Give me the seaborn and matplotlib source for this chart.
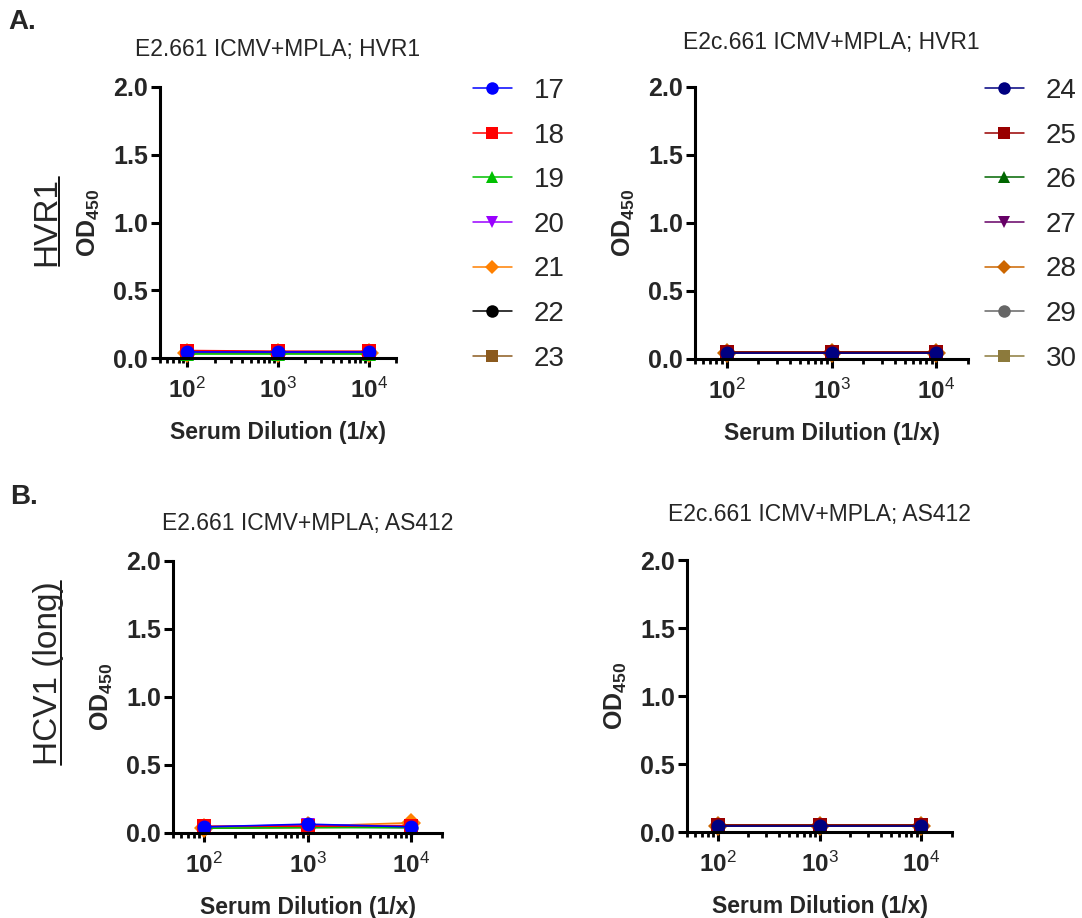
import numpy as np
import pandas as pd
import matplotlib
matplotlib.use('Agg')
import matplotlib.pyplot as plt
from matplotlib.lines import Line2D
from matplotlib.ticker import LogLocator, NullFormatter
import seaborn as sns

# ---- data ----
dilution = [100, 1000, 10000]

mice_e2 = ['17', '18', '19', '20', '21', '22', '23']
mice_e2c = ['24', '25', '26', '27', '28', '29', '30']

colors_e2 = ['#0000FF', '#FF0000', '#00C000', '#9900FF', '#FF8000', '#000000', '#8B5A1E']
colors_e2c = ['#000080', '#990000', '#006600', '#660066', '#CC6600', '#666666', '#8C7A3C']
markers = ['o', 's', '^', 'v', 'D', 'o', 's']

# OD450 per mouse at 1e2, 1e3, 1e4
hvr1_e2 = [[0.045, 0.045, 0.045],
           [0.055, 0.050, 0.050],
           [0.030, 0.030, 0.030],
           [0.050, 0.045, 0.045],
           [0.040, 0.040, 0.040],
           [0.040, 0.040, 0.040],
           [0.040, 0.040, 0.040]]
hvr1_e2c = [[0.045, 0.045, 0.045],
            [0.050, 0.050, 0.050],
            [0.055, 0.055, 0.055],
            [0.045, 0.045, 0.045],
            [0.045, 0.045, 0.045],
            [0.045, 0.045, 0.045],
            [0.045, 0.045, 0.045]]
as412_e2 = [[0.045, 0.065, 0.045],
            [0.050, 0.050, 0.055],
            [0.035, 0.040, 0.040],
            [0.045, 0.060, 0.050],
            [0.040, 0.050, 0.075],
            [0.040, 0.045, 0.040],
            [0.035, 0.040, 0.045]]
as412_e2c = [[0.045, 0.045, 0.045],
             [0.050, 0.050, 0.050],
             [0.050, 0.050, 0.050],
             [0.045, 0.045, 0.045],
             [0.045, 0.045, 0.045],
             [0.045, 0.045, 0.045],
             [0.045, 0.045, 0.045]]

titles = ['E2.661 ICMV+MPLA; HVR1', 'E2c.661 ICMV+MPLA; HVR1',
          'E2.661 ICMV+MPLA; AS412', 'E2c.661 ICMV+MPLA; AS412']

sns.set_style('ticks')
plt.rcParams['font.family'] = ['Liberation Sans', 'DejaVu Sans']
plt.rcParams['mathtext.fontset'] = 'custom'
plt.rcParams['mathtext.rm'] = 'Liberation Sans'
plt.rcParams['mathtext.bf'] = 'Liberation Sans:bold'
plt.rcParams['mathtext.it'] = 'Liberation Sans:italic'

W, H = 1082, 918
fig = plt.figure(figsize=(W / 100, H / 100), dpi=100)


def box(x0, x1, y0, y1):
    return [x0 / W, 1 - y1 / H, (x1 - x0) / W, (y1 - y0) / H]


def long_df(mice, values):
    rows = []
    for m, vals in zip(mice, values):
        for d, v in zip(dilution, vals):
            rows.append({'mouse': m, 'dilution': d, 'od': v})
    return pd.DataFrame(rows)


def draw_panel(rect, mice, values, colors, title, tpad, legend_at=None):
    ax = fig.add_axes(rect)
    df = long_df(mice, values)
    sns.lineplot(data=df, x='dilution', y='od', hue='mouse', style='mouse',
                 hue_order=mice[::-1], style_order=mice[::-1],
                 palette=dict(zip(mice, colors)), markers=dict(zip(mice, markers)),
                 dashes=False, markersize=10, markeredgewidth=0, linewidth=1.2,
                 errorbar=None, legend=False, ax=ax, clip_on=False)
    ax.set_xscale('log')
    ax.set_xlim(50, 20000)
    ax.set_ylim(0, 2)
    ax.set_yticks([0, 0.5, 1.0, 1.5, 2.0])
    ax.set_yticklabels(['0.0', '0.5', '1.0', '1.5', '2.0'], fontsize=18, fontweight='bold')
    ax.set_xticks(dilution)
    ax.set_xticklabels([r'$\mathbf{10}^{2}$', r'$\mathbf{10}^{3}$', r'$\mathbf{10}^{4}$'], fontsize=17.5)
    ax.xaxis.set_minor_locator(LogLocator(base=10, subs=np.arange(2, 10), numticks=20))
    ax.xaxis.set_minor_formatter(NullFormatter())
    ax.tick_params(axis='both', which='major', length=6.5, width=2.2, color='black')
    ax.tick_params(axis='x', which='major', pad=8)
    ax.tick_params(axis='y', which='major', pad=2)
    ax.tick_params(axis='x', which='minor', length=3.5, width=2.0, color='black')
    ax.tick_params(axis='y', which='minor', length=0)
    for s in ['top', 'right']:
        ax.spines[s].set_visible(False)
    for s in ['left', 'bottom']:
        ax.spines[s].set_linewidth(2.2)
        ax.spines[s].set_color('black')
    ax.set_xlabel('Serum Dilution (1/x)', fontsize=16.5, fontweight='bold', labelpad=13)
    ax.set_ylabel(r'$\mathbf{OD}_{\mathbf{450}}$', fontsize=18, labelpad=8)
    ax.set_title(title, fontsize=16.5, pad=tpad)
    if legend_at is not None:
        handles = [Line2D([], [], color=c, marker=m, linewidth=1.1,
                          markersize=7 if m == 'D' else 9, markeredgewidth=0)
                   for c, m in zip(colors, markers)]
        ax.legend(handles, mice, loc='upper left', bbox_to_anchor=legend_at,
                  bbox_transform=fig.transFigure, frameon=False, fontsize=20,
                  handlelength=1.4, handletextpad=0.8, labelspacing=0.67,
                  borderpad=0, borderaxespad=0)
    return ax


draw_panel(box(160, 396, 87, 358), mice_e2, hvr1_e2, colors_e2, titles[0], 22,
           legend_at=(473 / W, 1 - 78 / H))
draw_panel(box(695, 968, 87, 359), mice_e2c, hvr1_e2c, colors_e2c, titles[1], 27,
           legend_at=(985 / W, 1 - 78 / H))
draw_panel(box(173, 442, 561, 833), mice_e2, as412_e2, colors_e2, titles[2], 22)
draw_panel(box(687, 952, 560, 832), mice_e2c, as412_e2c, colors_e2c, titles[3], 28)

fig.text(8 / W, 1 - 22 / H, 'A.', fontsize=20, fontweight='bold', va='center', ha='left')
fig.text(10 / W, 1 - 497 / H, 'B.', fontsize=20, fontweight='bold', va='center', ha='left')


def underlined(x, y, s):
    t = fig.text(x, y, s, rotation=90, fontsize=24, ha='center', va='center')
    fig.canvas.draw()
    bb = t.get_window_extent()
    inv = fig.transFigure.inverted()
    (x0, y0), (x1, y1) = inv.transform([[bb.x0, bb.y0], [bb.x1, bb.y1]])
    ux = x1 - 4 / W
    fig.add_artist(Line2D([ux, ux], [y0, y1], transform=fig.transFigure,
                          color='black', linewidth=1.3))


underlined(47 / W, 1 - 222 / H, 'HVR1')
underlined(49 / W, 1 - 673 / H, 'HCV1 (long)')

fig.savefig('out.png', dpi=100)
